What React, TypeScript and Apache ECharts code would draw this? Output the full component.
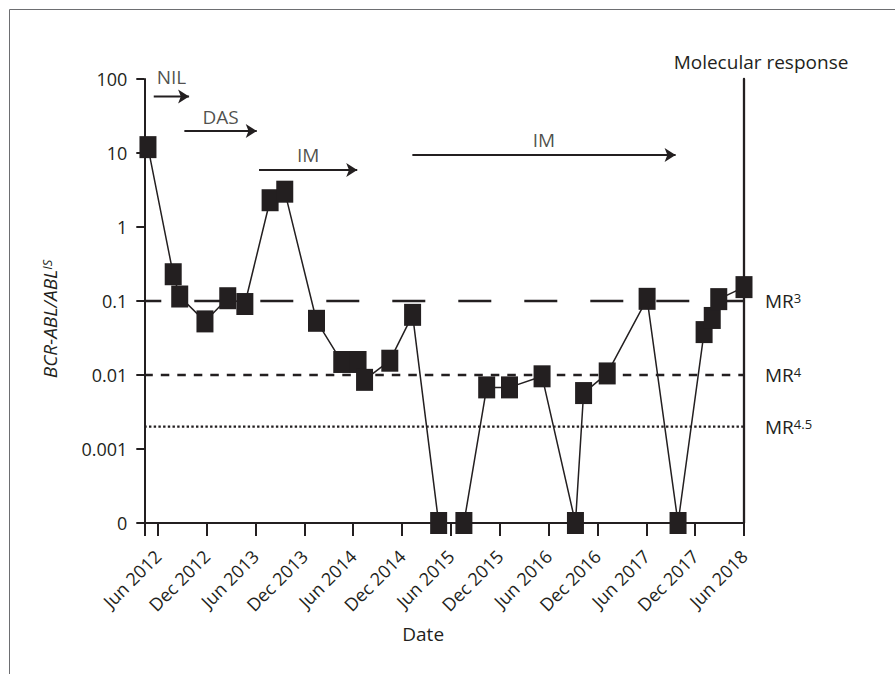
import React, { useEffect, useRef } from "react";
import * as echarts from "echarts";

// ---- data ----
const xTickMonths = [0, 6, 12, 18, 24, 30, 36, 42, 48, 54, 60, 66, 72];
const xTickLabels = [
  "Jun 2012", "Dec 2012", "Jun 2013", "Dec 2013", "Jun 2014", "Dec 2014",
  "Jun 2015", "Dec 2015", "Jun 2016", "Dec 2016", "Jun 2017", "Dec 2017", "Jun 2018",
];
// labels for the decades 1e-4 .. 1e2 (1e-4 is the "0" / undetectable level)
const yTickLabels = ["0", "0.001", "0.01", "0.1", "1", "10", "100"];

// months after Jun 2012
const sampleMonths = [
  -1.2, 1.9, 2.7, 5.8, 8.6, 10.7, 13.8, 15.6, 19.5, 22.6, 24.6, 25.4, 28.5, 31.3,
  34.5, 37.6, 40.4, 43.2, 47.2, 51.3, 52.3, 55.2, 60.1, 63.9, 67.1, 68.1, 68.9, 72.0,
];
// BCR-ABL/ABL IS (%); 0 = undetectable
const sampleValues = [
  12, 0.23, 0.115, 0.053, 0.109, 0.091, 2.3, 3.0, 0.054, 0.015, 0.015, 0.0086, 0.0156, 0.065,
  0, 0, 0.0068, 0.0068, 0.0096, 0, 0.0057, 0.0105, 0.107, 0, 0.038, 0.059, 0.106, 0.154,
];

// therapy periods (months after Jun 2012), drawn at an arbitrary height
const therapyNames = ["NIL", "DAS", "IM", "IM"];
const therapyStart = [-0.49, 3.27, 12.44, 31.27];
const therapyEnd = [3.85, 12.16, 24.5, 63.6];
const therapyLevel = [58, 19.8, 5.9, 9.4];

const mrSup = ["3", "4", "4.5"];
const mrValues = [0.1, 0.01, 0.002];

// ---- styles ----
const therapyLabelGap = [10, 5, 5, 5];
const mrStyles = [
  { type: [33, 33], width: 2.3, dashOffset: 16 },
  { type: [8.5, 8], width: 2.3 },
  { type: [2.4, 2.3], width: 2.2 },
];

const ZERO_LEVEL = 1e-4;
const X_MIN = -1.65;
const X_MAX = 72;
const ARROW_LEN = 11;
const INK = "#231f20";
const FONT = "'Open Sans', 'Noto Sans', sans-serif";

export default function App() {
  const ref = useRef<HTMLDivElement>(null);

  useEffect(() => {
    if (!ref.current) return;
    const chart = echarts.init(ref.current, undefined, { renderer: "svg" });

    const richMR = {
      a: { fontSize: 19, fontFamily: FONT, color: INK, verticalAlign: "bottom", lineHeight: 19 },
      s: { fontSize: 13, fontFamily: FONT, color: INK, verticalAlign: "top", lineHeight: 13 },
    };

    const mrSeries = mrValues.map((v, i) => ({
      name: "MR" + mrSup[i],
      type: "line",
      silent: true,
      z: 1,
      symbol: "none",
      data: [
        [X_MIN, v],
        [X_MAX, v],
      ],
      lineStyle: { color: INK, ...mrStyles[i] },
      endLabel: {
        show: true,
        distance: 21,
        formatter: `{a|MR}{s|${mrSup[i]}}`,
        rich: richMR,
      },
    }));

    const arrowSeries = therapyNames.map((n, i) => ({
      name: n + " " + i,
      type: "line",
      silent: true,
      z: 3,
      symbol: "none",
      lineStyle: { color: INK, width: 2 },
      data: [
        { value: [therapyStart[i], therapyLevel[i]], symbol: "none" },
        {
          value: [therapyEnd[i], therapyLevel[i]],
          symbol: "arrow",
          symbolSize: [10.5, ARROW_LEN],
          symbolRotate: -90,
          itemStyle: { color: INK },
        },
      ],
    }));

    const option: any = {
      animation: false,
      textStyle: { fontFamily: FONT, color: INK },
      grid: { left: 144.3, right: 151, top: 79, bottom: 151, containLabel: false },
      xAxis: {
        type: "value",
        min: X_MIN,
        max: X_MAX,
        axisLine: { show: true, onZero: false, lineStyle: { color: INK, width: 2 } },
        axisTick: {
          show: true,
          length: 13,
          lineStyle: { color: INK, width: 2 },
          customValues: [X_MIN, ...xTickMonths],
        },
        axisLabel: {
          customValues: xTickMonths,
          rotate: 45,
          fontSize: 18,
          fontFamily: FONT,
          color: INK,
          margin: 30,
          formatter: (v: number) => {
            const i = xTickMonths.indexOf(Math.round(v));
            return i >= 0 ? xTickLabels[i] : "";
          },
        },
        splitLine: { show: false },
        name: "Date",
        nameLocation: "middle",
        nameGap: 101,
        nameTextStyle: { fontSize: 19, fontFamily: FONT, color: INK, padding: [0, 42, 0, 0] },
      },
      yAxis: [
        {
          type: "log",
          logBase: 10,
          min: ZERO_LEVEL,
          max: 100,
          splitNumber: 6,
          axisLine: { show: true, onZero: false, lineStyle: { color: INK, width: 2 } },
          axisTick: { show: true, length: 8, lineStyle: { color: INK, width: 2 } },
          axisLabel: {
            fontSize: 18,
            fontFamily: FONT,
            color: INK,
            margin: 17,
            formatter: (v: number) => yTickLabels[Math.round(Math.log10(v)) + 4] ?? "",
          },
          splitLine: { show: false },
        },
        {
          type: "log",
          logBase: 10,
          min: ZERO_LEVEL,
          max: 100,
          position: "right",
          axisLine: { show: true, onZero: false, lineStyle: { color: INK, width: 2.3 } },
          axisTick: { show: false },
          axisLabel: { show: false },
          splitLine: { show: false },
          name: "Molecular response",
          nameLocation: "end",
          nameGap: 8,
          nameTextStyle: { fontSize: 19, fontFamily: FONT, color: INK, padding: [0, 0, 0, 34] },
        },
      ],
      graphic: [
        {
          type: "rect",
          silent: true,
          shape: { x: 9.5, y: 9.5, width: 1200, height: 1200 },
          style: { fill: "none", stroke: "#6d6e71", lineWidth: 1 },
        },
        {
          type: "text",
          x: 50,
          y: 319,
          rotation: Math.PI / 2,
          style: {
            text: "{a|BCR-ABL/ABL}{s|IS}",
            align: "center",
            verticalAlign: "middle",
            rich: {
              a: { fontSize: 19, fontStyle: "italic", fontFamily: FONT, fill: INK, verticalAlign: "bottom", lineHeight: 19 },
              s: { fontSize: 13, fontStyle: "italic", fontFamily: FONT, fill: INK, verticalAlign: "top", lineHeight: 13 },
            },
          },
        },
      ],
      series: [
        ...mrSeries,
        ...arrowSeries,
        {
          name: "Therapy labels",
          type: "scatter",
          silent: true,
          z: 3,
          symbolSize: 0,
          data: therapyNames.map((n, i) => ({
            name: n,
            value: [(therapyStart[i] + therapyEnd[i]) / 2, therapyLevel[i]],
            label: {
              show: true,
              position: "top",
              distance: therapyLabelGap[i],
              formatter: "{b}",
              fontSize: 19,
              fontFamily: FONT,
              color: INK,
            },
          })),
        },
        {
          name: "BCR-ABL/ABL IS",
          type: "line",
          z: 10,
          data: sampleMonths.map((m, i) => [m, sampleValues[i] === 0 ? ZERO_LEVEL : sampleValues[i]]),
          symbol: "rect",
          symbolSize: [17, 22],
          itemStyle: { color: INK },
          lineStyle: { color: INK, width: 1.5 },
        },
      ],
    };

    chart.setOption(option);
    return () => chart.dispose();
  }, []);

  return (
    <div
      ref={ref}
      style={{ position: "fixed", left: 0, top: 0, width: 895, height: 674, background: "#fff" }}
    />
  );
}
